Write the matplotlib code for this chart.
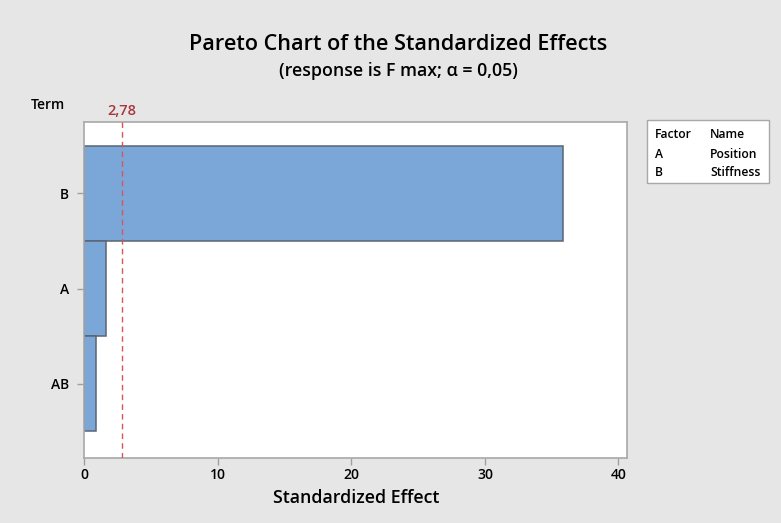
import matplotlib
matplotlib.use("Agg")
import matplotlib.pyplot as plt
from matplotlib.patches import Rectangle

terms = ["B", "A", "AB"]
effects = [35.87, 1.60, 0.87]
critical = 2.78
critical_label = "2,78"
factors = ["A", "B"]
factor_names = ["Position", "Stiffness"]
xticks = [0, 10, 20, 30, 40]

plt.rcParams["font.family"] = ["Open Sans", "DejaVu Sans"]

W, H = 781, 523
fig = plt.figure(figsize=(W / 100, H / 100), dpi=100)
fig.patch.set_facecolor("#e6e6e6")

ax = fig.add_axes([84.4 / W, 1 - 458 / H, (627 - 84.4) / W, (458 - 122) / H])
ax.set_facecolor("white")

ypos = list(range(len(terms)))
ax.barh(ypos, effects, height=1.0, color="#7ba7d8", edgecolor="#5a6573", linewidth=1.1, zorder=2)
ax.axvline(critical, color="#d9535a", linestyle=(0, (4, 3)), linewidth=1.0, zorder=3)

ax.set_xlim(0, 40.64)
ax.set_ylim(2.78, -0.75)
ax.set_xticks(xticks)
ax.set_xticklabels([str(t) for t in xticks], fontsize=10, fontweight="semibold")
ax.set_yticks(ypos)
ax.set_yticklabels(terms, fontsize=10, fontweight="semibold")
ax.tick_params(axis="x", length=5, color="#a0a0a0", width=1, pad=2)
ax.tick_params(axis="y", length=5, color="#a0a0a0", width=1, pad=6)
for s in ax.spines.values():
    s.set_color("#a8a8a8")
    s.set_linewidth(1.2)

ax.set_xlabel("Standardized Effect", fontsize=12.8, fontweight="semibold", labelpad=5)

# critical value label above the plot
ax.text(critical, 1.012, critical_label, transform=ax.get_xaxis_transform(),
        ha="center", va="bottom", color="#a8353a", fontsize=10.5, fontweight="semibold")

fig.text(31 / W, 1 - 105 / H, "Term", ha="left", va="center", fontsize=10, fontweight="semibold")

fig.text(398 / W, 1 - 45 / H, "Pareto Chart of the Standardized Effects",
         ha="center", va="center", fontsize=15.6, fontweight="semibold")
fig.text(398 / W, 1 - 71 / H, "(response is F max; α = 0,05)",
         ha="center", va="center", fontsize=12.8, fontweight="semibold")

# factor legend box
fig.patches.append(Rectangle((647 / W, 1 - 183 / H), (769 - 647) / W, (183 - 120) / H,
                             transform=fig.transFigure, facecolor="white",
                             edgecolor="#a8a8a8", linewidth=1.0))
fig.text(655 / W, 1 - 135 / H, "Factor", ha="left", va="center", fontsize=8.7, fontweight="semibold")
fig.text(710 / W, 1 - 135 / H, "Name", ha="left", va="center", fontsize=8.7, fontweight="semibold")
for i, (f, n) in enumerate(zip(factors, factor_names)):
    y = 1 - (154 + 18.5 * i) / H
    fig.text(655 / W, y, f, ha="left", va="center", fontsize=8.7, fontweight="semibold")
    fig.text(710 / W, y, n, ha="left", va="center", fontsize=8.7, fontweight="semibold")

fig.savefig("out.png", dpi=100, facecolor=fig.get_facecolor())
